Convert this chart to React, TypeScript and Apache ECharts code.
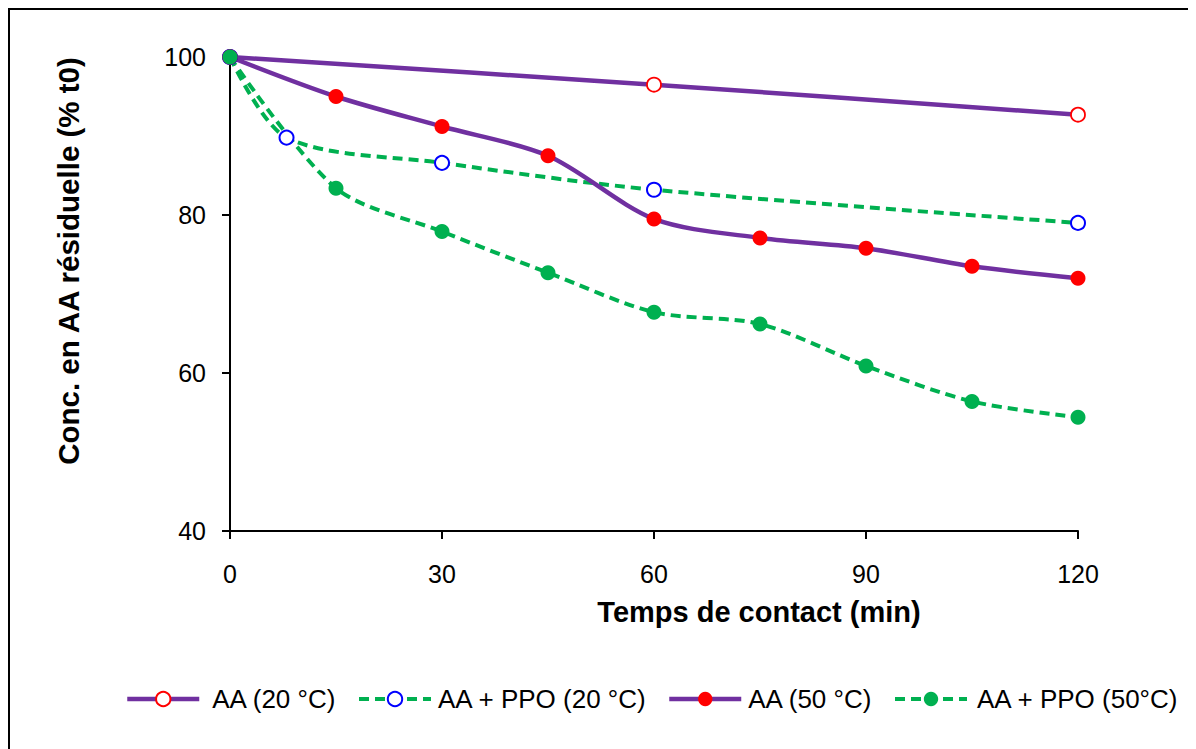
import React, { useEffect, useRef } from "react";
import * as echarts from "echarts";

const FONT = "'Liberation Sans', Arial, Helvetica, sans-serif";

// Data
const timeAA20 = [0, 60, 120];
const valAA20 = [100, 96.5, 92.7];

const timePPO20 = [0, 8, 30, 60, 120];
const valPPO20 = [100, 89.8, 86.6, 83.2, 79.0];

const time50 = [0, 15, 30, 45, 60, 75, 90, 105, 120];
const valAA50 = [100, 95.0, 91.2, 87.5, 79.5, 77.1, 75.8, 73.5, 72.0];
const valPPO50 = [100, 83.4, 77.9, 72.7, 67.7, 66.2, 60.9, 56.4, 54.4];

const xTicks = [0, 30, 60, 90, 120];
const yTicks = [40, 60, 80, 100];

const seriesNames = ["AA (20 °C)", "AA + PPO (20 °C)", "AA (50 °C)", "AA + PPO (50°C)"];

const PURPLE = "#7030A0";
const GREEN = "#00B050";

function pairs(xs: number[], ys: number[]) {
  return xs.map((x, i) => [x, ys[i]]);
}

export default function App() {
  const ref = useRef<HTMLDivElement>(null);
  useEffect(() => {
    const chart = echarts.init(ref.current!, null, { renderer: "svg" });
    const legendLefts = [112, 344, 654, 880];
    const legendPads = [8, 2, 2, 5];
    const legendLine = [
      { color: PURPLE, width: 4.5, type: "solid" },
      { color: GREEN, width: 4, type: [10, 6] },
      { color: PURPLE, width: 4.5, type: "solid" },
      { color: GREEN, width: 4, type: [10, 6] },
    ];
    chart.setOption({
      animation: false,
      grid: { left: 222, right: 118, top: 49, bottom: 218, containLabel: false },
      xAxis: {
        type: "value",
        min: xTicks[0],
        max: xTicks[xTicks.length - 1],
        interval: 30,
        axisLine: { show: true, onZero: false, lineStyle: { color: "#000", width: 2 } },
        axisTick: { show: true, length: 8, lineStyle: { color: "#000", width: 2 } },
        axisLabel: { fontSize: 25, color: "#000", fontFamily: FONT, margin: 30 },
        splitLine: { show: false },
      },
      yAxis: {
        type: "value",
        min: yTicks[0],
        max: yTicks[yTicks.length - 1],
        interval: 20,
        axisLine: { show: true, lineStyle: { color: "#000", width: 2 } },
        axisTick: { show: true, length: 8, lineStyle: { color: "#000", width: 2 } },
        axisLabel: { fontSize: 25, color: "#000", fontFamily: FONT, margin: 24 },
        splitLine: { show: false },
      },
      legend: seriesNames.map((n, i) => ({
        data: [n],
        left: legendLefts[i],
        top: 673,
        itemWidth: 72,
        itemHeight: 18,
        selectedMode: false,
        lineStyle: legendLine[i],
        textStyle: { fontSize: 26, color: "#000", fontFamily: FONT, padding: [0, 0, 0, legendPads[i]] },
      })),
      graphic: [
        { type: "line", shape: { x1: 0, y1: 1, x2: 1188, y2: 1 }, style: { stroke: "#000", lineWidth: 2 } },
        { type: "line", shape: { x1: 1, y1: 0, x2: 1, y2: 741 }, style: { stroke: "#000", lineWidth: 2 } },
        { type: "line", shape: { x1: 1187.5, y1: 0, x2: 1187.5, y2: 741 }, style: { stroke: "#9a9a9a", lineWidth: 1 } },
        {
          type: "text",
          x: 751,
          y: 604,
          style: {
            text: "Temps de contact (min)",
            fontSize: 29,
            fontWeight: "bold",
            fontFamily: FONT,
            fill: "#000",
            align: "center",
            verticalAlign: "middle",
          },
        },
        {
          type: "text",
          x: 60,
          y: 253,
          rotation: Math.PI / 2,
          style: {
            text: "Conc. en AA résiduelle (% t0)",
            fontSize: 29.5,
            fontWeight: "bold",
            fontFamily: FONT,
            fill: "#000",
            align: "center",
            verticalAlign: "middle",
          },
        },
      ],
      series: [
        {
          name: seriesNames[0],
          type: "line",
          data: pairs(timeAA20, valAA20),
          smooth: 0.3,
          symbol: "circle",
          symbolSize: 14,
          lineStyle: { color: PURPLE, width: 4.5 },
          itemStyle: { color: "#fff", borderColor: "#FF0000", borderWidth: 1.8 },
          emphasis: { disabled: true },
        },
        {
          name: seriesNames[1],
          type: "line",
          data: pairs(timePPO20, valPPO20),
          smooth: 0.3,
          symbol: "circle",
          symbolSize: 14,
          lineStyle: { color: GREEN, width: 4, type: [10, 6] },
          itemStyle: { color: "#fff", borderColor: "#0000FF", borderWidth: 2 },
          emphasis: { disabled: true },
        },
        {
          name: seriesNames[2],
          type: "line",
          data: pairs(time50, valAA50),
          smooth: 0.3,
          symbol: "circle",
          symbolSize: 15,
          lineStyle: { color: PURPLE, width: 4.5 },
          itemStyle: { color: "#FF0000", borderColor: "#FF0000", borderWidth: 0 },
          emphasis: { disabled: true },
        },
        {
          name: seriesNames[3],
          type: "line",
          data: pairs(time50, valPPO50),
          smooth: 0.3,
          symbol: "circle",
          symbolSize: 15,
          lineStyle: { color: GREEN, width: 4, type: [10, 6] },
          itemStyle: { color: GREEN, borderColor: GREEN, borderWidth: 0 },
          emphasis: { disabled: true },
        },
      ],
    });
    return () => chart.dispose();
  }, []);
  return <div ref={ref} style={{ width: 1188, height: 741 }} />;
}
